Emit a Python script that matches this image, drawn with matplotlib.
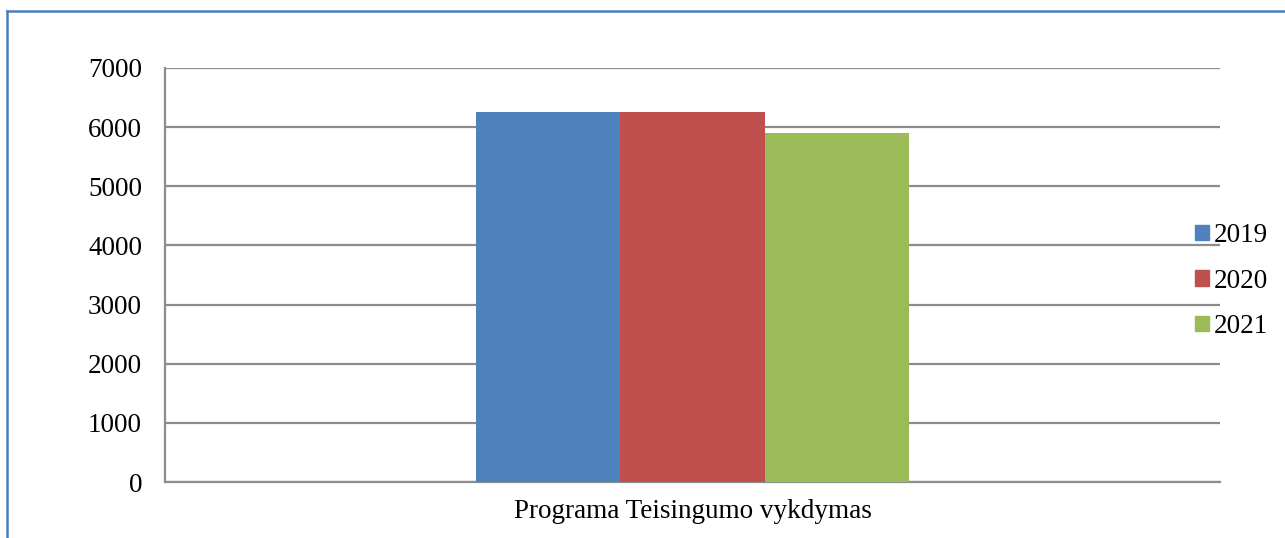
import matplotlib
matplotlib.use("Agg")
import matplotlib.pyplot as plt
from matplotlib.lines import Line2D
import numpy as np

categories = ["Programa Teisingumo vykdymas"]
series_names = ["2019", "2020", "2021"]
values_2019 = [6250]
values_2020 = [6250]
values_2021 = [5900]
colors = ["#4F81BD", "#C0504D", "#9BBB59"]
yticks = [0, 1000, 2000, 3000, 4000, 5000, 6000, 7000]

plt.rcParams['font.family'] = ['Liberation Serif', 'DejaVu Serif']

W, H = 1285, 538
fig = plt.figure(figsize=(W / 100, H / 100), dpi=100)
ax = fig.add_axes([165 / W, 1 - 482 / H, (1220 - 165) / W, (482 - 68) / H])

x = np.arange(len(categories))
bw = 0.1365
series = [values_2019, values_2020, values_2021]
for i, (name, vals, c) in enumerate(zip(series_names, series, colors)):
    ax.bar(x + (i - 1) * bw, vals, width=bw, color=c, label=name, zorder=3)

ax.set_xlim(-0.5, 0.5)
ax.set_ylim(0, 7000)
ax.set_yticks(yticks)
ax.set_yticklabels([str(t) for t in yticks], fontsize=19.5)
ax.set_xticks(x)
ax.set_xticklabels(categories, fontsize=19.5)
ax.tick_params(axis='y', length=0, pad=16.5)
ax.tick_params(axis='x', length=0, pad=12.5)
ax.yaxis.grid(True, color="#8C8C8C", linewidth=1.6, zorder=0)
ax.set_axisbelow(True)
for s in ["top", "right"]:
    ax.spines[s].set_visible(False)
for s in ["left", "bottom"]:
    ax.spines[s].set_color("#8C8C8C")
    ax.spines[s].set_linewidth(1.6)

handles = [plt.Rectangle((0, 0), 1, 1, color=c) for c in colors]
leg = fig.legend(handles, series_names, loc="center left",
                 bbox_to_anchor=(1195 / W, 1 - 281 / H), frameon=False,
                 fontsize=19.5, handlelength=0.5, handleheight=0.5,
                 handletextpad=0.19, labelspacing=0.76, borderaxespad=0,
                 borderpad=0)

border_color = "#4A7EBB"
fig.add_artist(Line2D([7 / W, 7 / W], [1 - 11 / H, 0], color=border_color, linewidth=1.8))
fig.add_artist(Line2D([7 / W, 1], [1 - 11 / H, 1 - 11 / H], color=border_color, linewidth=1.8))

fig.savefig("out.png", dpi=100)
